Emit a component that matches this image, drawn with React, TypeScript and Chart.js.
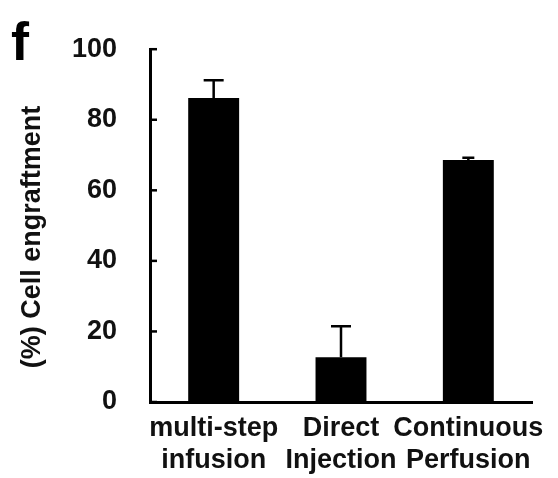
import React, { useEffect, useRef } from "react";
import { Chart, registerables } from "chart.js";

Chart.register(...registerables);

const categories: string[][] = [
  ["multi-step", "infusion"],
  ["Direct", "Injection"],
  ["Continuous", "Perfusion"],
];
const values: number[] = [86.2, 12.7, 68.6];
const errors: number[] = [5.0, 8.8, 0.6];
const yTicks: number[] = [0, 20, 40, 60, 80, 100];
const yTitle = "(%) Cell engraftment";
const panelLabel = "f";

const FONT = "'Liberation Sans', Arial, Helvetica, sans-serif";

const extrasPlugin = {
  id: "extras",
  afterDatasetsDraw(chart: any) {
    const ctx = chart.ctx;
    const y = chart.scales.y;
    const meta = chart.getDatasetMeta(0);
    ctx.save();
    ctx.strokeStyle = "#000";
    ctx.lineWidth = 2.5;
    // error bars (upper only)
    meta.data.forEach((bar: any, i: number) => {
      const cx = bar.x;
      const yTop = y.getPixelForValue(values[i]);
      const yErr = y.getPixelForValue(values[i] + errors[i]);
      const cap = errors[i] < 2 ? 6 : 10;
      ctx.beginPath();
      ctx.moveTo(cx, yTop);
      ctx.lineTo(cx, yErr);
      ctx.moveTo(cx - cap, yErr);
      ctx.lineTo(cx + cap, yErr);
      ctx.stroke();
    });
    // inward y ticks
    yTicks.forEach((v) => {
      const py = y.getPixelForValue(v);
      ctx.beginPath();
      ctx.moveTo(chart.chartArea.left, py);
      ctx.lineTo(chart.chartArea.left + 7, py);
      ctx.stroke();
    });
    // y axis title
    ctx.fillStyle = "#111";
    ctx.font = `bold 27px ${FONT}`;
    ctx.textAlign = "center";
    ctx.textBaseline = "middle";
    ctx.translate(33, 237);
    ctx.rotate(-Math.PI / 2);
    ctx.fillText(yTitle, 0, 0);
    ctx.setTransform(1, 0, 0, 1, 0, 0);
    // panel label
    ctx.fillStyle = "#000";
    ctx.font = `bold 54px ${FONT}`;
    ctx.textBaseline = "alphabetic";
    ctx.textAlign = "left";
    ctx.fillText(panelLabel, 11, 60);
    ctx.restore();
  },
};

export default function App() {
  const ref = useRef<HTMLCanvasElement | null>(null);
  useEffect(() => {
    if (!ref.current) return;
    const chart = new Chart(ref.current, {
      type: "bar",
      data: {
        labels: categories,
        datasets: [
          {
            data: values,
            backgroundColor: "#000",
            borderWidth: 0,
            barPercentage: 0.4,
            categoryPercentage: 1,
          },
        ],
      },
      options: {
        responsive: false,
        animation: false,
        devicePixelRatio: 1,
        layout: { padding: { top: 48, right: 26, left: 0, bottom: 0 } },
        plugins: {
          legend: { display: false },
          tooltip: { enabled: false },
        },
        scales: {
          x: {
            grid: { display: true, drawOnChartArea: false, drawTicks: false },
            border: { display: true, color: "#000", width: 3 },
            ticks: {
              color: "#111",
              font: { family: FONT, size: 27, weight: "bold" },
              padding: 10,
              maxRotation: 0,
              autoSkip: false,
            },
            afterFit: (s: any) => {
              s.height = 76;
            },
          },
          y: {
            min: 0,
            max: 100,
            afterBuildTicks: (s: any) => {
              s.ticks = yTicks.map((v) => ({ value: v }));
            },
            grid: { display: true, drawOnChartArea: false, drawTicks: false },
            border: { display: true, color: "#000", width: 3 },
            ticks: {
              color: "#111",
              font: { family: FONT, size: 27, weight: "bold" },
              padding: 33,
            },
            afterFit: (s: any) => {
              s.width = 150;
            },
          },
        },
      },
      plugins: [extrasPlugin],
    });
    return () => chart.destroy();
  }, []);
  return (
    <div style={{ position: "absolute", left: 0, top: 0, width: 558, height: 478, background: "#fff" }}>
      <canvas ref={ref} width={558} height={478} />
    </div>
  );
}
